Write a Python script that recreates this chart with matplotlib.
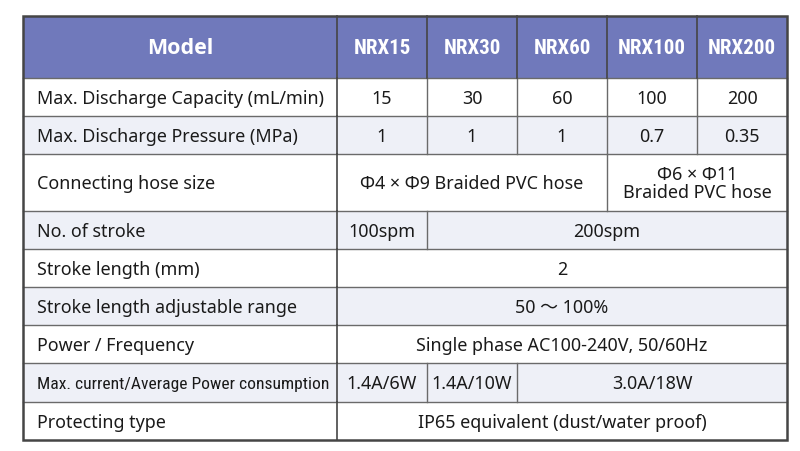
import matplotlib
matplotlib.use("Agg")
import matplotlib.pyplot as plt
from matplotlib.patches import Rectangle

# ---- data ----
header_label = "Model"
models = ["NRX15", "NRX30", "NRX60", "NRX100", "NRX200"]
row_labels = [
    "Max. Discharge Capacity (mL/min)",
    "Max. Discharge Pressure (MPa)",
    "Connecting hose size",
    "No. of stroke",
    "Stroke length (mm)",
    "Stroke length adjustable range",
    "Power / Frequency",
    "Max. current/Average Power consumption",
    "Protecting type",
]
capacity = ["15", "30", "60", "100", "200"]
capacity_spans = [1, 1, 1, 1, 1]
pressure = ["1", "1", "1", "0.7", "0.35"]
pressure_spans = [1, 1, 1, 1, 1]
hose = ["Φ4 × Φ9 Braided PVC hose", "Φ6 × Φ11\nBraided PVC hose"]
hose_spans = [3, 2]
stroke = ["100spm", "200spm"]
stroke_spans = [1, 4]
stroke_length = ["2"]
stroke_length_spans = [5]
adjust_range = ["50 ～ 100%"]
adjust_range_spans = [5]
power = ["Single phase AC100-240V, 50/60Hz"]
power_spans = [5]
current = ["1.4A/6W", "1.4A/10W", "3.0A/18W"]
current_spans = [1, 1, 3]
protection = ["IP65 equivalent (dust/water proof)"]
protection_spans = [5]

row_values = [capacity, pressure, hose, stroke, stroke_length,
              adjust_range, power, current, protection]
row_spans = [capacity_spans, pressure_spans, hose_spans, stroke_spans,
             stroke_length_spans, adjust_range_spans, power_spans,
             current_spans, protection_spans]

# ---- layout / style ----
W, H = 800, 452
x0, y0 = 23, 17
label_w = 314
col_w = 90
header_h = 62
row_h = [38, 38, 57, 38, 38, 38, 38, 39, 38]

header_color = "#7079bb"
shade_color = "#eef0f7"
text_color = "#1a1a1a"
line_color = "#6a6a6a"
border_color = "#454545"
FAM = ["Noto Sans", "Noto Sans CJK JP", "DejaVu Sans"]

fig = plt.figure(figsize=(W / 100, H / 100), dpi=100)
ax = fig.add_axes([0, 0, 1, 1])
ax.set_xlim(0, W)
ax.set_ylim(H, 0)
ax.axis("off")

col_edges = [x0, x0 + label_w] + [x0 + label_w + col_w * (i + 1) for i in range(len(models))]
x_end = col_edges[-1]

# header
ax.add_patch(Rectangle((x0, y0), x_end - x0, header_h, facecolor=header_color,
                       edgecolor="none", zorder=1))
ax.text(x0 + label_w / 2, y0 + header_h / 2 + 1, header_label,
        color="white", fontsize=15.5, fontweight="bold", family=["Open Sans", "DejaVu Sans"],
        ha="center", va="center")
for i, m in enumerate(models):
    cx = (col_edges[i + 1] + col_edges[i + 2]) / 2
    ax.text(cx, y0 + header_h / 2 + 1, m, color="white", fontsize=15,
            fontweight="bold", family=["Roboto Condensed", "DejaVu Sans"],
            fontstretch="condensed", ha="center", va="center")
for i in range(1, len(col_edges) - 1):
    ax.plot([col_edges[i]] * 2, [y0, y0 + header_h], color=border_color, lw=1.2, zorder=3)

# body
y = y0 + header_h
for r, (lab, vals, spans) in enumerate(zip(row_labels, row_values, row_spans)):
    h = row_h[r]
    fc = shade_color if r % 2 == 1 else "white"
    ax.add_patch(Rectangle((x0, y), x_end - x0, h, facecolor=fc, edgecolor="none", zorder=1))
    if len(lab) > 34:
        ax.text(x0 + 14, y + h / 2 + 1, lab, color=text_color, fontsize=12.6,
                family=["Roboto Condensed", "DejaVu Sans"], ha="left", va="center")
    else:
        ax.text(x0 + 14, y + h / 2 + 1, lab, color=text_color, fontsize=12.9, family=FAM,
                ha="left", va="center")
    ax.plot([x0, x_end], [y, y], color=line_color, lw=1.0, zorder=2)
    ax.plot([col_edges[1]] * 2, [y, y + h], color=border_color, lw=1.2, zorder=3)
    c = 1
    for v, s in zip(vals, spans):
        left = col_edges[c]
        right = col_edges[c + s]
        ax.text((left + right) / 2, y + h / 2 + 1, v, color=text_color, fontsize=12.9,
                family=FAM, ha="center", va="center", linespacing=1.0)
        if c + s < len(col_edges) - 1:
            ax.plot([right] * 2, [y, y + h], color=line_color, lw=1.0, zorder=2)
        c += s
    y += h

# outer border
ax.add_patch(Rectangle((x0, y0), x_end - x0, y - y0, facecolor="none",
                       edgecolor=border_color, lw=1.8, zorder=4))

fig.savefig("out.png", dpi=100, facecolor="white")
